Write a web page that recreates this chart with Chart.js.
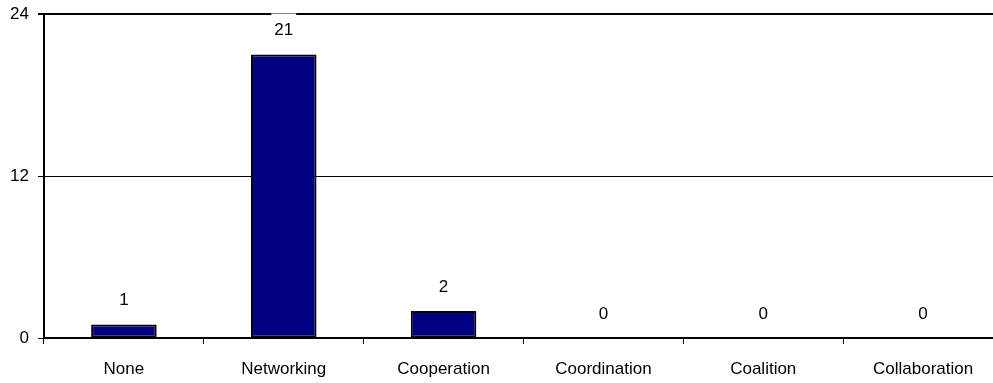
<!DOCTYPE html>
<html lang="en">
<head>
    <meta charset="UTF-8">
    <title>Stages</title>
    <style>
        body { margin: 0; background: #fff; overflow: hidden; }
        .wrap { position: relative; width: 1003px; height: 383px; }
    </style>
</head>
<body>
    <div class="wrap">
        <canvas id="stage-chart"></canvas>
    </div>

    <script src="https://cdn.jsdelivr.net/npm/chart.js"></script>
    <script>
        const categories = ['None', 'Networking', 'Cooperation', 'Coordination', 'Coalition', 'Collaboration'];
        const counts = [1, 21, 2, 0, 0, 0];
        const yTicks = [0, 12, 24];

        const fontFamily = "'Liberation Sans', Arial, sans-serif";
        Chart.defaults.font.family = fontFamily;
        Chart.defaults.font.size = 17;
        Chart.defaults.color = '#000';

        // value labels above each bar, on a white box (hides the gridline behind)
        const valueLabels = {
            id: 'valueLabels',
            afterDatasetsDraw(chart) {
                const ctx = chart.ctx;
                const meta = chart.getDatasetMeta(0);
                ctx.save();
                ctx.font = '17px ' + fontFamily;
                ctx.textAlign = 'center';
                ctx.textBaseline = 'middle';
                meta.data.forEach((bar, i) => {
                    const text = String(counts[i]);
                    const cy = bar.y - 24;
                    const w = ctx.measureText(text).width;
                    ctx.fillStyle = '#fff';
                    ctx.fillRect(bar.x - w / 2 - 3, cy - 17, w + 6, 32);
                    ctx.fillStyle = '#000';
                    ctx.fillText(text, bar.x, cy);
                });
                ctx.restore();
            }
        };

        new Chart(document.getElementById('stage-chart'), {
            type: 'bar',
            data: {
                labels: categories,
                datasets: [{
                    data: counts,
                    backgroundColor: '#000080',
                    borderColor: '#000',
                    borderWidth: 2,
                    borderSkipped: false,
                    barPercentage: 0.41,
                    categoryPercentage: 1
                }]
            },
            options: {
                responsive: true,
                maintainAspectRatio: false,
                animation: false,
                layout: { padding: { top: 14, right: 0, bottom: 0, left: 0 } },
                plugins: {
                    legend: { display: false },
                    tooltip: { enabled: false }
                },
                scales: {
                    x: {
                        afterFit: scale => { scale.height = 45; },
                        grid: {
                            offset: true,
                            drawOnChartArea: false,
                            tickLength: 6,
                            color: '#000'
                        },
                        border: { color: '#000', width: 2 },
                        ticks: { padding: 15 }
                    },
                    y: {
                        min: 0,
                        max: 24,
                        afterFit: scale => { scale.width = 44; },
                        afterBuildTicks: scale => {
                            scale.ticks = yTicks.map(v => ({ value: v }));
                        },
                        grid: {
                            color: '#000',
                            lineWidth: c => (c.tick && c.tick.value === 24 ? 2 : 1),
                            tickLength: 6
                        },
                        border: { color: '#000', width: 2 },
                        ticks: { padding: 9, font: { lineHeight: 0.5 } }
                    }
                }
            },
            plugins: [valueLabels]
        });
    </script>
</body>
</html>
